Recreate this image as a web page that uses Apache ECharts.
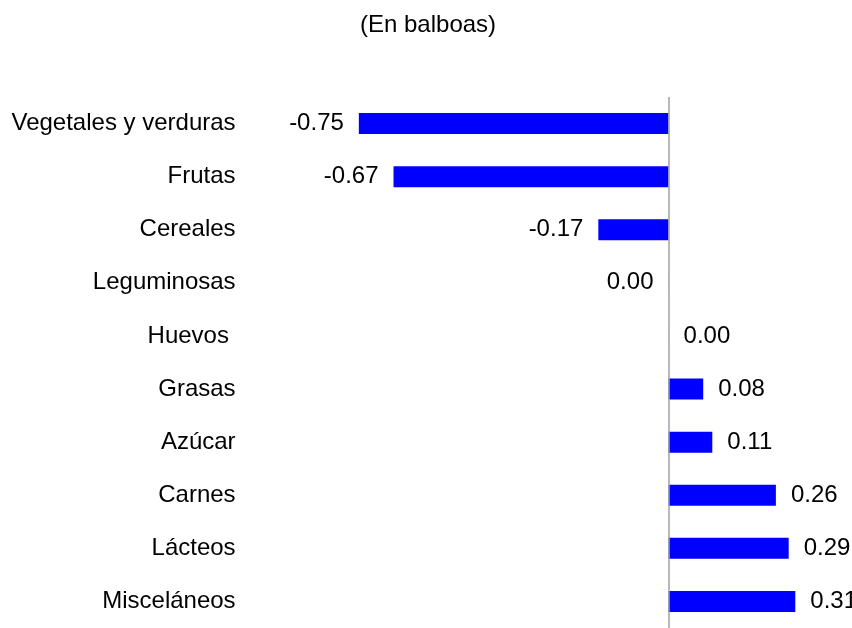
<!DOCTYPE html>
<html>
<head>
<meta charset="utf-8">
<script src="https://cdn.jsdelivr.net/npm/echarts@6/dist/echarts.min.js"></script>
<style>
html,body{margin:0;padding:0;background:#fff;}
#chart{width:852px;height:628px;}
</style>
</head>
<body>
<div id="chart"></div>
<script>
var titleText = '(En balboas)';
var categories = ['Vegetales y verduras', 'Frutas', 'Cereales', 'Leguminosas', 'Huevos ', 'Grasas', 'Azúcar', 'Carnes', 'Lácteos', 'Misceláneos'];
var values = [-0.75, -0.666, -0.17, -0.0001, 0.0001, 0.084, 0.106, 0.26, 0.291, 0.307];

var FONT = 'Liberation Sans, Arial, sans-serif';
var chart = echarts.init(document.getElementById('chart'), null, {renderer: 'canvas'});

function fmt(v) {
  var r = Math.round(v * 100) / 100;
  if (r === 0) r = 0;
  return r.toFixed(2);
}

var data = values.map(function (v) {
  return {
    value: v,
    label: {position: v < 0 ? 'left' : 'right'}
  };
});

chart.setOption({
  backgroundColor: '#ffffff',
  animation: false,
  title: {
    text: titleText,
    left: 355,
    top: 8,
    textStyle: {fontFamily: FONT, fontSize: 24, fontWeight: 'normal', color: '#000'}
  },
  grid: {left: 255.6, top: 97, width: 578.1, height: 537},
  xAxis: {
    type: 'value',
    min: -1,
    max: 0.4,
    show: false
  },
  yAxis: {
    type: 'category',
    data: categories,
    inverse: true,
    axisLine: {show: false},
    axisTick: {show: false},
    splitLine: {show: false},
    axisLabel: {
      margin: 20,
      fontFamily: FONT,
      fontSize: 24,
      color: '#000'
    }
  },
  series: [{
    type: 'bar',
    data: data,
    barWidth: 21,
    itemStyle: {color: '#0000FF'},
    label: {
      show: true,
      distance: 15,
      fontFamily: FONT,
      fontSize: 24,
      color: '#000',
      formatter: function (p) { return fmt(p.value); }
    },
    markLine: {
      silent: true,
      symbol: 'none',
      label: {show: false},
      lineStyle: {color: '#A0A0A0', width: 1.5, type: 'solid'},
      data: [{xAxis: 0}]
    }
  }]
});
</script>
</body>
</html>
